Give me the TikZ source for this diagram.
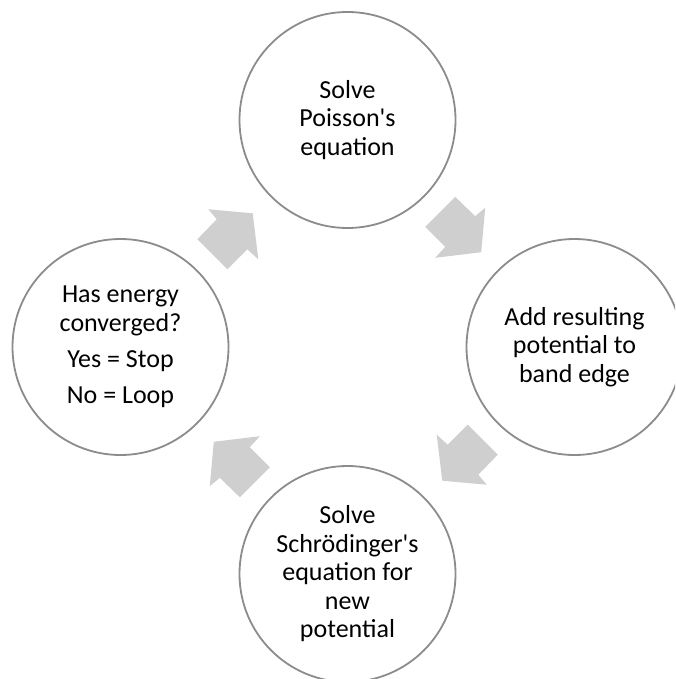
\documentclass[tikz,border=0pt]{standalone}
\usepackage{fontspec}
\setmainfont{Carlito}[Ligatures=TeXOff]
\definecolor{ringgray}{RGB}{140,140,140}
\definecolor{arrowgray}{RGB}{207,207,207}
\begin{document}
\begin{tikzpicture}[x=1pt,y=-1pt,
  stage/.style={circle,draw=ringgray,line width=1.8pt,fill=white,minimum size=216pt,inner sep=0pt,
    align=center,font=\fontsize{26}{28.5}\selectfont,text=black},
  blockarrow/.style={fill=arrowgray,draw=none}]
\useasboundingbox (0,0) rectangle (675,679);
\clip (0,0) rectangle (675,679);
\fill[white] (0,0) rectangle (675,679);
\node[stage] (poisson) at (347.5,120) {Solve\\Poisson's\\equation};
\node[stage] (band) at (574.5,347) {Add resulting\\potential to\\band edge};
\node[stage] (schrod) at (347.5,574) {Solve\\Schrödinger's\\equation for\\new\\potential};
\node[stage] (conv) at (120.5,347) {Has energy\\converged?\\[7.5pt]Yes = Stop\\[7.5pt]No = Loop};
% block arrows of the cycle
\fill[blockarrow] (252.7,213.3) -- (208.3,209.3) -- (216.7,219.3) -- (197.3,239.3) -- (227.3,269.3) -- (247.3,249.3) -- (258.3,259.3) -- cycle;
\fill[blockarrow] (481.2,252.2) -- (485.2,207.8) -- (475.2,216.2) -- (455.2,196.8) -- (425.2,226.8) -- (445.2,246.8) -- (435.2,257.8) -- cycle;
\fill[blockarrow] (442.3,480.7) -- (486.7,484.7) -- (478.3,474.7) -- (497.7,454.7) -- (467.7,424.7) -- (447.7,444.7) -- (436.7,434.7) -- cycle;
\fill[blockarrow] (213.8,441.8) -- (209.8,486.2) -- (219.8,477.8) -- (239.8,497.2) -- (269.8,467.2) -- (249.8,447.2) -- (259.8,436.2) -- cycle;
\end{tikzpicture}
\end{document}
